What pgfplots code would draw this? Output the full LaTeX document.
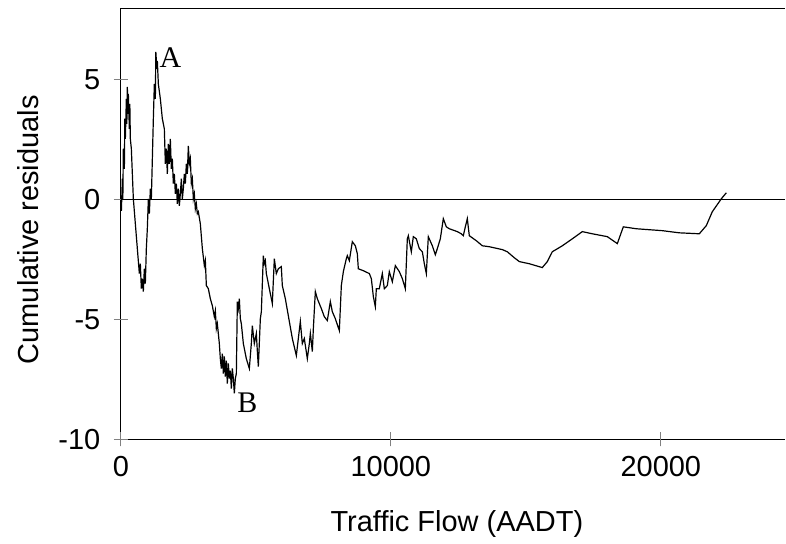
\documentclass[border=0pt]{standalone}
\usepackage{fontspec}
\setmainfont{Liberation Sans}
\newfontfamily\serifA{Liberation Serif}
\usepackage{pgfplots}
\pgfplotsset{compat=1.18}

\begin{document}
\begin{tikzpicture}
\begin{axis}[
    scale only axis,
    width=665pt, height=432pt,
    xmin=0, xmax=24600,
    ymin=-10, ymax=8,
    axis x line*=box,
    axis y line*=left,
    axis line style={black, line width=0.9pt},
    xtick={0,10000,20000},
    ytick={-10,-5,0,5},
    xtick pos=left, ytick pos=left,
    tick align=center,
    major tick length=14pt,
    major tick style={draw=black!55, line width=1.2pt},
    scaled x ticks=false,
    /pgf/number format/1000 sep={},
    /pgf/number format/assume math mode=true,
    ticklabel style={font=\fontsize{29}{34}\selectfont},
    xticklabel style={yshift=-6pt},
    yticklabel style={xshift=-10pt},
    xlabel={Traffic Flow (AADT)},
    ylabel={Cumulative residuals},
    label style={font=\fontsize{29}{34}\selectfont},
    xlabel style={at={(rel axis cs:0.5,0)}, anchor=center, yshift=-85pt, xshift=4pt},
    ylabel style={at={(rel axis cs:0,0.486)}, anchor=center, yshift=93pt},
    clip=false,
]
% zero reference line
\addplot[black, line width=0.9pt] coordinates {(0,0) (24600,0)};

% cumulative residuals against AADT
\addplot[black, line width=1.2pt] coordinates {
(20,-0.46) (56,0.88) (74,0.04) (93,2.13) (130,1.29) (148,3.38) (167,2.54) (204,4.21)
(222,3.17) (241,4.71) (259,3.58) (278,4.42) (315,2.96) (333,4.00) (352,2.54) (389,2.13)
(426,1.08) (463,0.04) (537,-1.00) (611,-2.04) (685,-3.08) (722,-2.67) (759,-3.71) (796,-3.29)
(833,-3.83) (870,-2.88) (907,-3.50) (944,-2.04) (981,-1.21) (1019,0.04) (1056,-0.58) (1093,0.46)
(1130,0.04) (1167,1.71) (1204,3.38) (1241,4.83) (1278,4.21) (1296,6.17) (1333,5.46) (1352,5.79)
(1389,4.83) (1463,4.21) (1537,3.38) (1611,2.96) (1648,1.50) (1685,2.13) (1722,1.08) (1759,2.33)
(1796,1.50) (1833,2.54) (1870,1.29) (1907,1.71) (1944,0.67) (1981,1.08) (2019,0.25) (2056,0.67)
(2093,-0.17) (2130,0.46) (2167,-0.25) (2204,0.25) (2241,0.88) (2278,0.04) (2315,0.46) (2352,1.08)
(2389,0.67) (2426,1.50) (2463,1.08) (2500,2.25) (2537,1.50) (2574,1.71) (2611,0.67) (2648,0.88)
(2685,0.04) (2722,0.25) (2759,-0.38) (2796,-0.17) (2833,-0.58) (2870,-0.50) (2944,-1.00) (3019,-2.04)
(3093,-2.75) (3130,-2.54) (3167,-3.58) (3241,-3.71) (3315,-4.13) (3389,-4.42) (3463,-4.88) (3500,-4.63)
(3537,-5.38) (3574,-5.17) (3648,-6.00) (3685,-6.63) (3722,-7.04) (3759,-6.42) (3796,-7.25) (3833,-6.54)
(3870,-7.38) (3907,-6.71) (3944,-7.67) (3981,-6.83) (4019,-7.46) (4056,-7.13) (4093,-7.88) (4130,-7.04)
(4167,-7.46) (4204,-8.08) (4241,-7.46) (4278,-7.25) (4315,-4.25) (4352,-4.54) (4389,-4.13) (4426,-4.96)
(4463,-5.17) (4537,-6.00) (4648,-6.63) (4759,-7.04) (4833,-6.00) (4870,-5.25) (4944,-6.00) (5019,-5.58)
(5056,-6.33) (5093,-6.96) (5167,-4.96) (5204,-4.67) (5241,-3.50) (5278,-2.33) (5315,-2.67) (5352,-2.54)
(5389,-3.08) (5500,-3.71) (5611,-4.33) (5685,-2.46) (5759,-3.08) (5833,-2.88) (5944,-2.79) (5981,-3.58)
(6093,-4.13) (6241,-5.08) (6352,-5.79) (6500,-6.50) (6574,-5.79) (6648,-5.08) (6722,-6.00) (6796,-5.79)
(6907,-6.63) (6981,-6.00) (7019,-5.58) (7093,-6.33) (7130,-5.38) (7204,-3.83) (7278,-4.13) (7426,-4.54)
(7537,-4.88) (7648,-5.04) (7759,-4.25) (7833,-4.67) (7944,-4.96) (8093,-5.46) (8167,-3.58) (8241,-3.00)
(8352,-2.46) (8389,-2.33) (8463,-2.54) (8574,-1.75) (8685,-1.92) (8759,-2.25) (8796,-2.88) (8981,-2.96)
(9204,-3.08) (9278,-3.29) (9352,-4.04) (9426,-4.46) (9463,-3.71) (9574,-3.71) (9685,-3.08) (9759,-3.71)
(9870,-3.58) (9944,-3.00) (10056,-3.42) (10167,-2.75) (10315,-3.00) (10426,-3.29) (10537,-3.71) (10611,-1.63)
(10648,-1.50) (10759,-2.17) (10833,-1.54) (10944,-1.63) (11056,-2.04) (11167,-2.17) (11241,-2.67) (11315,-3.08)
(11389,-1.54) (11537,-1.92) (11648,-2.29) (11722,-2.04) (11833,-1.63) (11944,-0.79) (12056,-1.13) (12167,-1.21)
(12463,-1.33) (12611,-1.42) (12685,-1.50) (12759,-1.13) (12833,-0.79) (12907,-1.50) (13167,-1.71) (13389,-1.92)
(13648,-1.96) (14130,-2.08) (14315,-2.17) (14574,-2.42) (14759,-2.58) (15130,-2.67) (15611,-2.83) (15796,-2.58)
(15981,-2.17) (16352,-1.92) (16722,-1.63) (17093,-1.33) (17463,-1.42) (18019,-1.54) (18389,-1.83) (18611,-1.13)
(19093,-1.21) (19574,-1.25) (20056,-1.29) (20685,-1.38) (21426,-1.42) (21685,-1.08) (21907,-0.50) (22241,0.04)
(22426,0.29)
};

\node[font=\serifA\fontsize{30}{34}\selectfont] at (axis cs:1833,5.92) {A};
\node[font=\serifA\fontsize{30}{34}\selectfont] at (axis cs:4685,-8.46) {B};

% cross-shaped tick marks, as in the original
\draw[black!50, line width=1.2pt] (axis cs:0,-10) ++(0pt,-7pt) -- ++(0pt,14pt);
\draw[black!50, line width=1.2pt] (axis cs:10000,-10) ++(0pt,-7pt) -- ++(0pt,14pt);
\draw[black!50, line width=1.2pt] (axis cs:20000,-10) ++(0pt,-7pt) -- ++(0pt,14pt);
\draw[black!50, line width=1.2pt] (axis cs:0,-10) ++(-7pt,0pt) -- ++(14pt,0pt);
\draw[black!50, line width=1.2pt] (axis cs:0,-5) ++(-7pt,0pt) -- ++(14pt,0pt);
\draw[black!50, line width=1.2pt] (axis cs:0,0) ++(-7pt,0pt) -- ++(7pt,0pt);
\draw[black!50, line width=1.2pt] (axis cs:0,5) ++(-7pt,0pt) -- ++(14pt,0pt);

% picture extent
\path (rel axis cs:0,0) ++(-121pt,-104pt) coordinate (bl);
\path (rel axis cs:1,1) ++(1pt,8pt) coordinate (tr);
\end{axis}
\useasboundingbox (bl) rectangle (tr);
\end{tikzpicture}
\end{document}
